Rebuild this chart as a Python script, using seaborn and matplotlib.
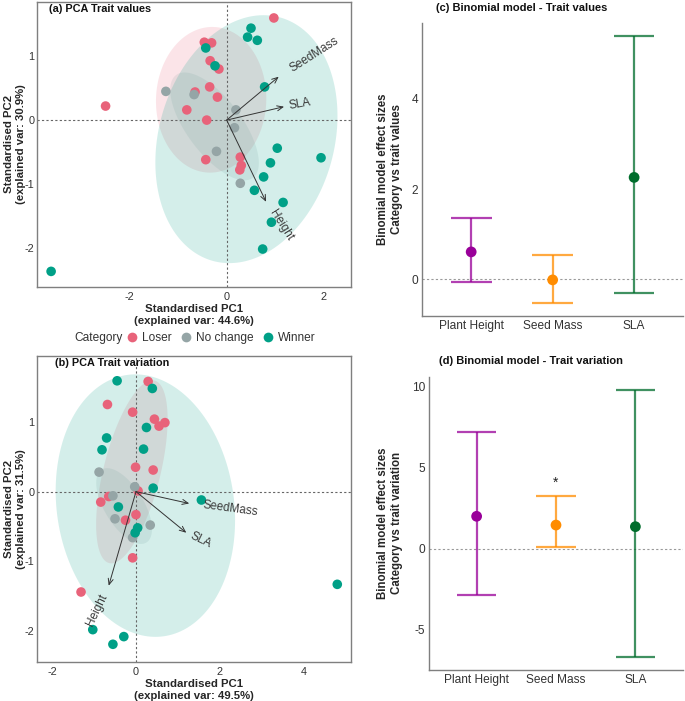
import numpy as np
import pandas as pd
import matplotlib
matplotlib.use('Agg')
import matplotlib.pyplot as plt
from matplotlib.lines import Line2D
import seaborn as sns

# ---- PCA scores, (a) trait values ----
a_pc1 = [0.97, -0.46, -0.31, -0.34, -0.16, -0.35, -0.65, -0.19, -2.49, -0.82, -0.41, -0.43, 0.28, 0.30, 0.27,
         -1.25, -0.67, 0.19, 0.16, -0.21, 0.28,
         0.50, 0.43, 0.63, -0.43, -0.24, 0.78, 1.04, 1.94, 0.90, 0.76, 0.57, 1.16, 0.92, 0.74, -3.61]
a_pc2 = [1.60, 1.22, 1.21, 0.93, 0.80, 0.52, 0.44, 0.36, 0.22, 0.16, 0.00, -0.62, -0.58, -0.71, -0.78,
         0.45, 0.40, 0.16, -0.12, -0.49, -0.99,
         1.44, 1.30, 1.25, 1.13, 0.85, 0.52, -0.44, -0.59, -0.67, -0.89, -1.10, -1.29, -1.60, -2.02, -2.37]
a_cat = ['Loser'] * 15 + ['No change'] * 6 + ['Winner'] * 15

# ---- PCA scores, (b) trait variation ----
b_pc1 = [0.29, -0.68, -0.08, 0.44, 0.55, 0.69, -0.01, 0.41, 0.05, -0.65, -0.84, 0.00, -0.25, -0.08, -1.31,
         -0.88, -0.03, -0.55, -0.50, 0.34, -0.08,
         -0.45, 0.39, 0.25, -0.70, -0.81, 0.18, 0.41, -0.42, 0.04, -0.02, 1.56, 4.80, -1.03, -0.29, -0.55]
b_pc2 = [1.58, 1.25, 1.14, 1.04, 0.94, 0.99, 0.35, 0.31, 0.01, -0.07, -0.15, -0.33, -0.41, -0.95, -1.44,
         0.28, 0.07, -0.06, -0.39, -0.48, -0.66,
         1.59, 1.48, 0.92, 0.77, 0.60, 0.61, 0.05, -0.22, -0.52, -0.59, -0.12, -1.33, -1.98, -2.08, -2.19]
b_cat = ['Loser'] * 15 + ['No change'] * 6 + ['Winner'] * 15

# ---- variable loadings (arrows) ----
a_vars = ['SeedMass', 'SLA', 'Height']
a_vx = [1.07, 1.18, 0.81]
a_vy = [0.68, 0.21, -1.28]
b_vars = ['SeedMass', 'SLA', 'Height']
b_vx = [1.27, 1.20, -0.65]
b_vy = [-0.17, -0.59, -1.35]

# ---- binomial model effect sizes ----
traits = ['Plant Height', 'Seed Mass', 'SLA']
c_est = [0.61, -0.01, 2.26]
c_low = [-0.05, -0.52, -0.31]
c_high = [1.37, 0.54, 5.40]
d_est = [2.00, 1.46, 1.36]
d_low = [-2.86, 0.08, -6.67]
d_high = [7.20, 3.27, 9.79]
d_signif = ['', '*', '']

categories = ['Loser', 'No change', 'Winner']
cat_colors = ['#E8637A', '#95A5A6', '#00A087']
trait_colors = ['#990099', '#FF8C00', '#006D2C']

sns.set_theme(style='white')
plt.rcParams['font.family'] = ['Liberation Sans', 'DejaVu Sans']
plt.rcParams['axes.unicode_minus'] = False
TXT = '#333333'
EDGE = '#7F7F7F'

fig = plt.figure(figsize=(6.85, 7.01), dpi=100)
W, H = 685.0, 701.0


def add_ax(l, t, r, b):
    return fig.add_axes([l / W, 1 - b / H, (r - l) / W, (b - t) / H])


def draw_ellipse(ax, x, y, color, prob=0.68):
    pts = np.column_stack([x, y])
    mu = pts.mean(axis=0)
    cov = np.cov(pts, rowvar=False)
    r = np.sqrt(-2 * np.log(1 - prob))
    t = np.linspace(0, 2 * np.pi, 200)
    circ = np.column_stack([np.cos(t), np.sin(t)])
    ell = mu + r * circ @ np.linalg.cholesky(cov).T
    ax.fill(ell[:, 0], ell[:, 1], color=color, alpha=0.17, lw=0, zorder=1)


def pca_panel(ax, pc1, pc2, cat, vnames, vx, vy, title, xlab, ylab, xlim, ylim, xticks, yticks, tx):
    df = pd.DataFrame({'pc1': pc1, 'pc2': pc2, 'cat': cat})
    for c, col in zip(categories, cat_colors):
        sub = df[df['cat'] == c]
        draw_ellipse(ax, sub['pc1'], sub['pc2'], col)
    ax.axhline(0, color='#666666', lw=0.8, ls=(0, (2, 2)), zorder=2)
    ax.axvline(0, color='#666666', lw=0.8, ls=(0, (2, 2)), zorder=2)
    sns.scatterplot(data=df, x='pc1', y='pc2', hue='cat', hue_order=categories,
                    palette=cat_colors, s=48, edgecolor='none', ax=ax, zorder=3)
    ax.get_legend().remove()
    for name, x, y in zip(vnames, vx, vy):
        ax.annotate('', xy=(x, y), xytext=(0, 0),
                    arrowprops=dict(arrowstyle='->,head_length=0.35,head_width=0.15',
                                    color='#333333', lw=0.7, shrinkA=0, shrinkB=0), zorder=4)
        ang = np.degrees(np.arctan(y / x))
        sgn = 1 if x > 0 else -1
        pad = 0.25 * len(name) * 5.0
        dx = sgn * pad * np.cos(np.radians(ang))
        dy = sgn * pad * np.sin(np.radians(ang))
        ax.annotate(name, xy=(x, y), xytext=(dx, dy), textcoords='offset points',
                    rotation=ang, rotation_mode='anchor', ha='left' if x > 0 else 'right',
                    va='center', fontsize=8.5, color='#3A3A3A', zorder=5)
    ax.set_xlim(xlim)
    ax.set_ylim(ylim)
    ax.set_xticks(xticks)
    ax.set_yticks(yticks)
    ax.tick_params(length=0, labelsize=7.8, colors=TXT)
    ax.tick_params(axis='x', pad=4)
    ax.tick_params(axis='y', pad=2)
    for s in ax.spines.values():
        s.set_color(EDGE)
        s.set_linewidth(1.0)
    ax.set_xlabel(xlab, fontsize=8.2, fontweight='bold', labelpad=1, linespacing=1.3)
    ax.set_ylabel('')
    # y label placed near the left edge, centred on the panel
    bb = ax.get_position()
    fig.text(15 / W, bb.y0 + bb.height / 2, ylab, rotation=90, ha='center', va='center',
             fontsize=8.2, fontweight='bold', linespacing=1.15, multialignment='center')
    ax.text(tx, 0.993, title, transform=ax.transAxes, ha='left', va='top',
            fontsize=7.8, fontweight='bold', color='#111111')


def effect_panel(ax, est, low, high, ylab, ylim, yticks, signif=None):
    pos = np.arange(len(traits))
    ax.axhline(0, color='#999999', lw=0.8, ls=(0, (2, 2)), zorder=1)
    ax.vlines(pos, low, high, colors=trait_colors, alpha=0.75, lw=1.6, zorder=2)
    ax.hlines(low, pos - 0.25, pos + 0.25, colors=trait_colors, alpha=0.75, lw=1.6, zorder=2)
    ax.hlines(high, pos - 0.25, pos + 0.25, colors=trait_colors, alpha=0.75, lw=1.6, zorder=2)
    sns.scatterplot(x=traits, y=est, hue=traits, palette=trait_colors, s=60,
                    edgecolor='none', legend=False, ax=ax, zorder=3)
    if signif:
        for p, h, s in zip(pos, high, signif):
            if s:
                ax.text(p, h + 0.35, s, ha='center', va='bottom', fontsize=10, color='#222222')
    ax.set_xlim(-0.6, 2.6)
    ax.set_ylim(ylim)
    ax.set_yticks(yticks)
    ax.tick_params(length=0, labelsize=8.6, colors=TXT, pad=3)
    sns.despine(ax=ax)
    for s in ['left', 'bottom']:
        ax.spines[s].set_color(EDGE)
        ax.spines[s].set_linewidth(1.0)
    ax.set_xlabel('')
    ax.set_ylabel(ylab, fontsize=8.3, fontweight='bold', labelpad=6)


ax_a = add_ax(37, 2, 350.7, 286.7)
ax_b = add_ax(37, 355.7, 350.7, 661.7)
ax_c = add_ax(422.3, 23, 683, 316)
ax_d = add_ax(429, 376.7, 683, 670)

pca_panel(ax_a, a_pc1, a_pc2, a_cat, a_vars, a_vx, a_vy, '(a) PCA Trait values',
          'Standardised PC1\n(explained var: 44.6%)', 'Standardised PC2\n(explained var: 30.9%)',
          (-3.9, 2.55), (-2.61, 1.85), [-2, 0, 2], [-2, -1, 0, 1], 0.038)
pca_panel(ax_b, b_pc1, b_pc2, b_cat, b_vars, b_vx, b_vy, '(b) PCA Trait variation',
          'Standardised PC1\n(explained var: 49.5%)', 'Standardised PC2\n(explained var: 31.5%)',
          (-2.36, 5.12), (-2.44, 1.95), [-2, 0, 2, 4], [-2, -1, 0, 1], 0.058)

effect_panel(ax_c, c_est, c_low, c_high, 'Binomial model effect sizes\nCategory vs trait values',
             (-0.81, 5.68), [0, 2, 4])
effect_panel(ax_d, d_est, d_low, d_high, 'Binomial model effect sizes\nCategory vs trait variation',
             (-7.49, 10.62), [-5, 0, 5, 10], d_signif)

fig.text(522 / W, 1 - 8 / H, '(c) Binomial model - Trait values', ha='center', va='center',
         fontsize=8, fontweight='bold', color='#111111')
fig.text(531 / W, 1 - 361 / H, '(d) Binomial model - Trait variation', ha='center', va='center',
         fontsize=8, fontweight='bold', color='#111111')

# legend under panel (a)
fig.text(74 / W, 1 - 338 / H, 'Category', ha='left', va='center', fontsize=8.6, color=TXT)
handles = [Line2D([], [], marker='o', ls='none', markersize=7, markerfacecolor=c,
                  markeredgecolor='none') for c in cat_colors]
fig.legend(handles, categories, loc='center left', bbox_to_anchor=(126 / W, 1 - 338 / H),
           ncol=3, frameon=False, fontsize=8.6, handlelength=1.0, handletextpad=0.3,
           columnspacing=0.75, borderpad=0, borderaxespad=0, labelcolor=TXT)

fig.savefig('out.png', dpi=100)
